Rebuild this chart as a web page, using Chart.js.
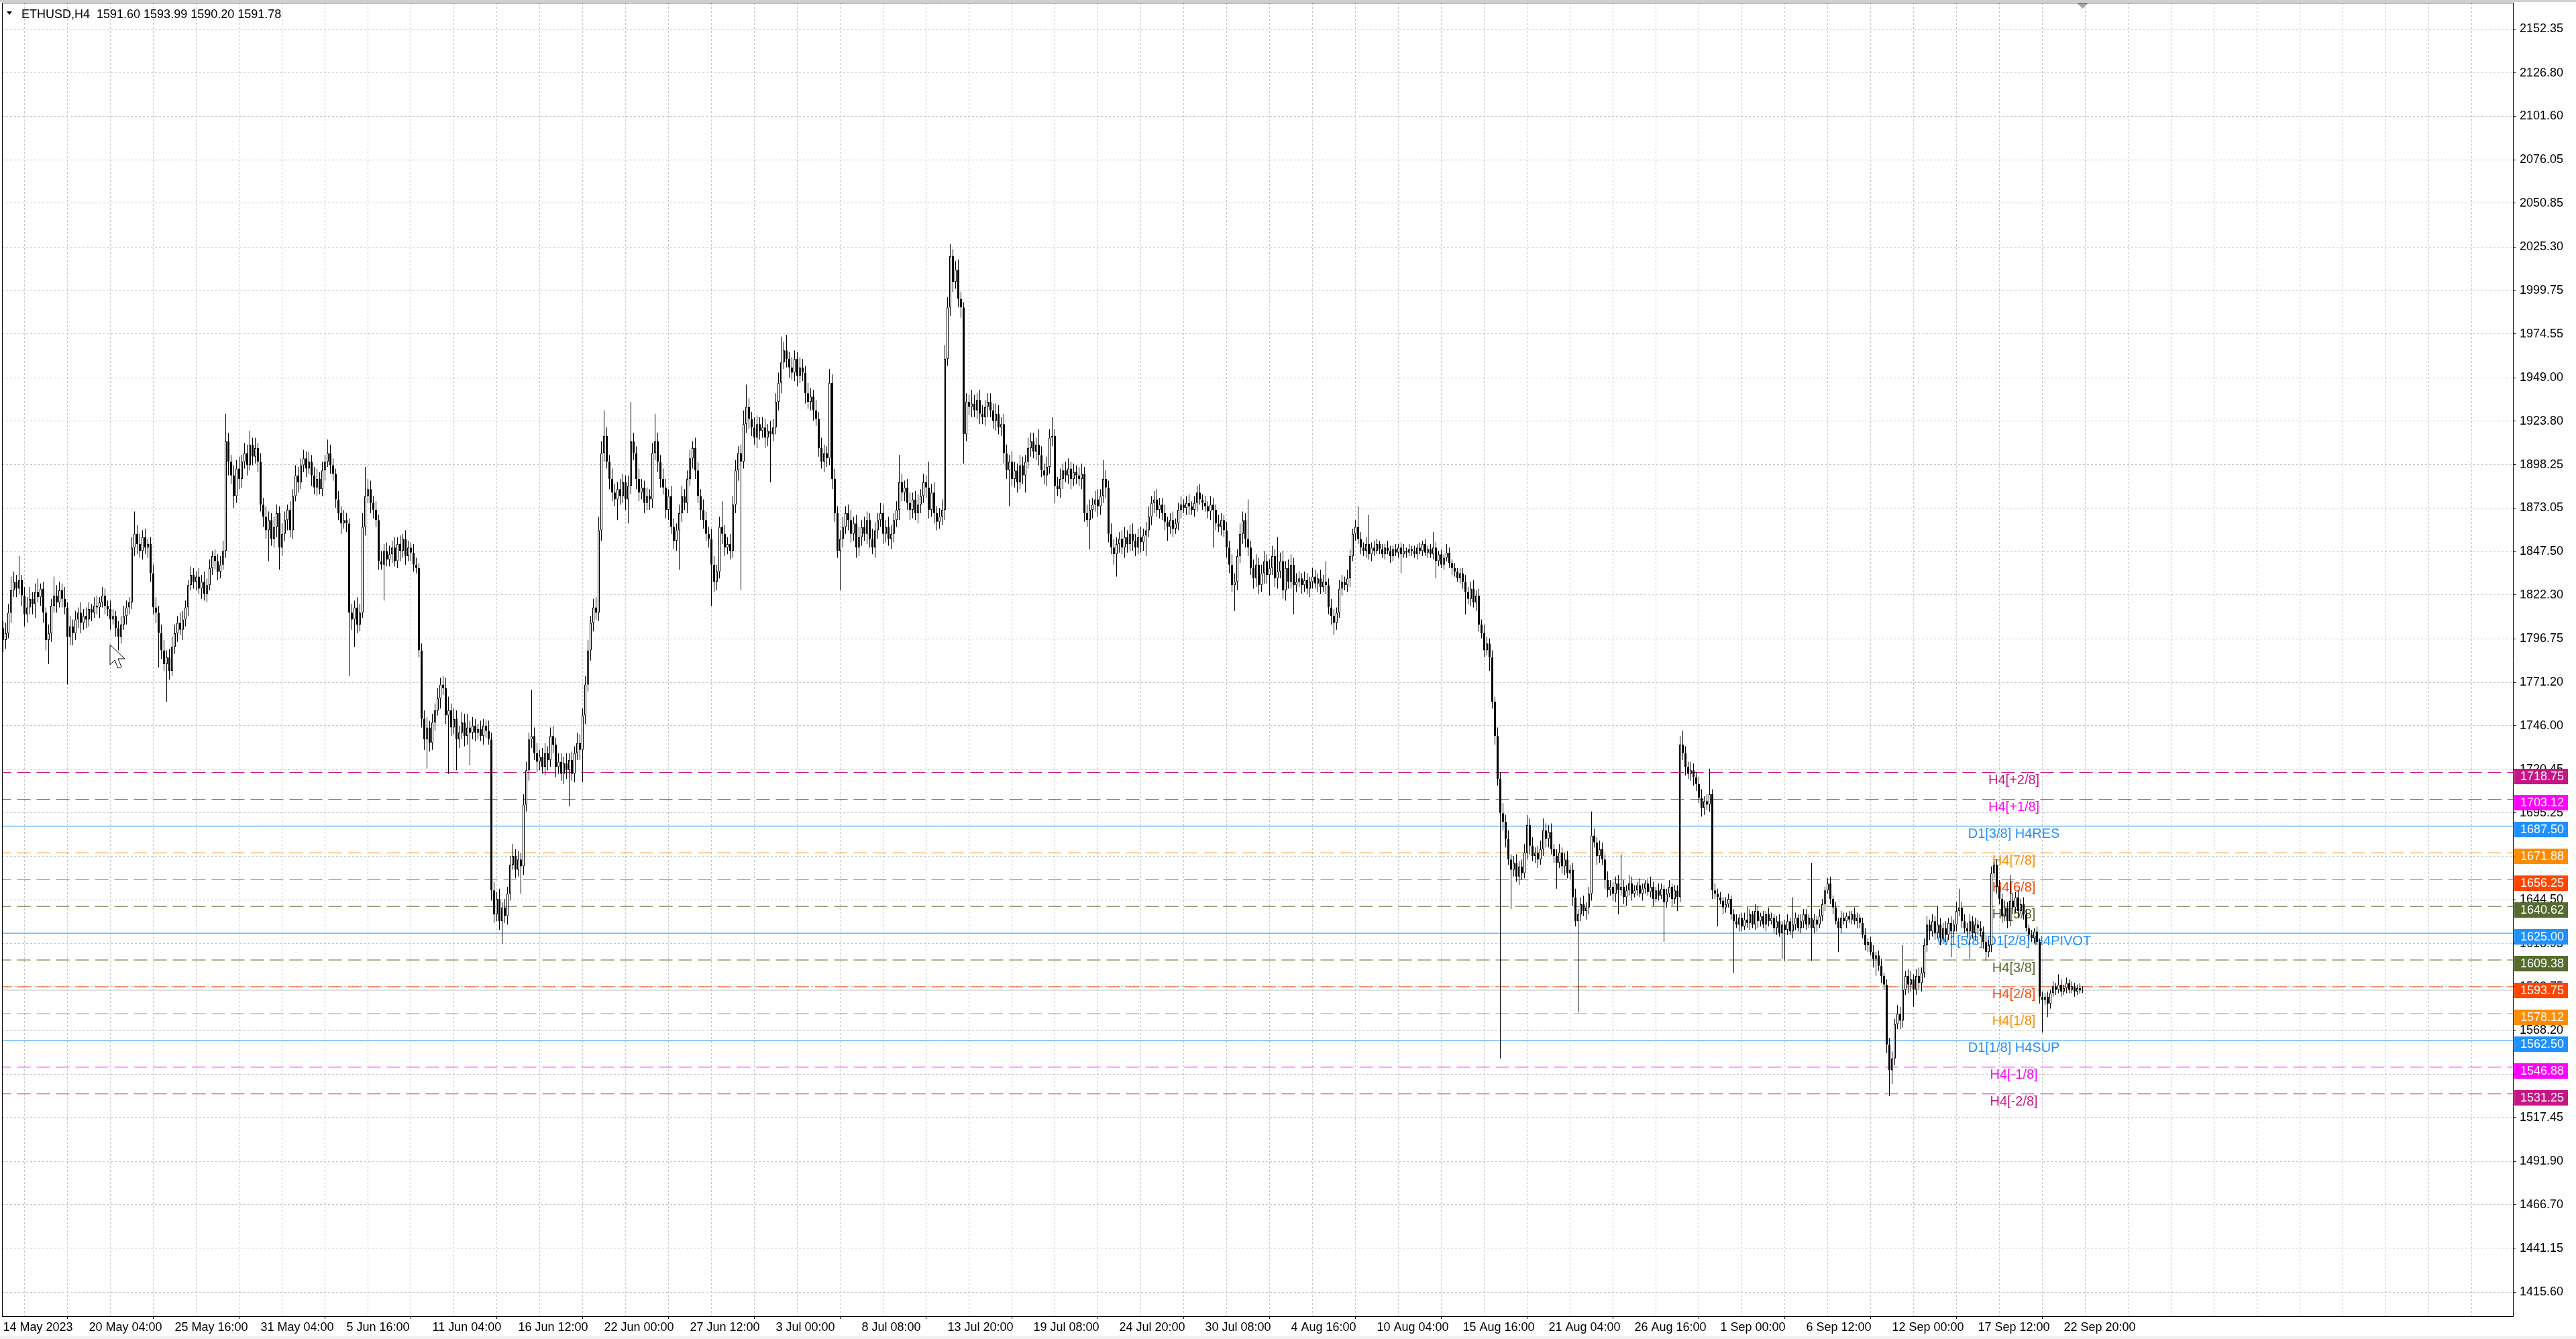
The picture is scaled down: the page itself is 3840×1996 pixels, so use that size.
<!DOCTYPE html>
<html>
<head>
<meta charset="utf-8">
<title>ETHUSD,H4</title>
<script src="https://cdn.jsdelivr.net/npm/chart.js@4.4.1/dist/chart.umd.min.js"></script>
<style>
  html, body { margin: 0; padding: 0; background: #fff; }
  canvas { display: block; }
</style>
</head>
<body>
<canvas id="graficoPreco" width="3840" height="1996"></canvas>
<script>
// ETHUSD H4 candles (open = previous close)
const symbolName = 'ETHUSD';
const periodName = 'H4';
const firstOpen = 1803;

const closes = [
  1796,1800,1812,1825,1830,1826,1831,1822,1811,1815,1820,1817,1824,1821,1826,1812,
  1796,1800,1816,1822,1818,1825,1820,1815,1798,1804,1800,1808,1812,1806,1810,1808,
  1814,1812,1816,1815,1818,1822,1816,1814,1808,1810,1803,1798,1805,1810,1815,1818,
  1850,1858,1852,1848,1856,1850,1852,1835,1815,1812,1800,1790,1782,1786,1778,1792,
  1800,1806,1802,1808,1815,1828,1834,1830,1833,1826,1830,1823,1828,1838,1845,1842,
  1836,1840,1848,1912,1900,1892,1880,1896,1890,1900,1905,1898,1910,1903,1908,1900,
  1875,1868,1860,1866,1855,1862,1870,1850,1858,1866,1872,1860,1880,1892,1888,1898,
  1902,1896,1900,1892,1885,1890,1884,1895,1900,1905,1898,1893,1878,1870,1864,1866,
  1864,1812,1808,1815,1805,1812,1862,1880,1884,1876,1872,1866,1842,1840,1848,1843,
  1846,1850,1842,1852,1848,1855,1845,1850,1847,1840,1838,1790,1750,1738,1745,1736,
  1748,1755,1762,1770,1768,1752,1755,1745,1750,1738,1742,1748,1740,1745,1742,1746,
  1742,1744,1740,1746,1743,1738,1650,1636,1645,1632,1640,1635,1648,1665,1670,1662,
  1668,1664,1700,1720,1738,1740,1730,1725,1728,1722,1730,1726,1740,1735,1722,1725,
  1718,1724,1720,1726,1718,1730,1736,1732,1752,1770,1790,1806,1815,1812,1860,1905,
  1915,1900,1890,1882,1878,1884,1880,1888,1878,1886,1912,1905,1890,1882,1885,1876,
  1880,1878,1905,1912,1900,1890,1885,1872,1880,1862,1854,1860,1870,1880,1876,1890,
  1902,1908,1895,1880,1872,1866,1858,1855,1840,1830,1836,1862,1858,1850,1852,1848,
  1875,1895,1905,1900,1922,1932,1925,1920,1914,1922,1918,1920,1914,1918,1916,1920,
  1935,1946,1958,1965,1960,1955,1952,1960,1950,1955,1952,1940,1935,1938,1930,1925,
  1908,1900,1905,1902,1946,1890,1870,1848,1855,1862,1870,1866,1858,1864,1850,1856,
  1862,1858,1866,1855,1850,1860,1866,1870,1858,1862,1855,1858,1866,1872,1888,1882,
  1885,1876,1872,1878,1870,1875,1880,1888,1885,1872,1882,1870,1865,1868,1872,1960,
  1990,2020,2005,2012,1995,1990,1916,1935,1932,1934,1930,1936,1928,1926,1932,1935,
  1930,1924,1928,1920,1922,1905,1895,1900,1890,1895,1888,1898,1892,1900,1908,1912,
  1906,1910,1904,1895,1892,1897,1914,1915,1886,1884,1890,1895,1892,1896,1890,1894,
  1892,1890,1893,1870,1866,1872,1875,1878,1874,1880,1890,1885,1858,1850,1846,1852,
  1855,1850,1856,1852,1858,1854,1850,1856,1853,1857,1860,1868,1876,1878,1872,1875,
  1870,1865,1862,1866,1861,1864,1872,1875,1873,1876,1874,1872,1876,1882,1878,1876,
  1874,1871,1875,1872,1864,1862,1866,1860,1850,1840,1828,1830,1845,1858,1866,1855,
  1850,1838,1832,1840,1828,1835,1842,1834,1838,1845,1832,1836,1842,1825,1838,1830,
  1840,1828,1830,1832,1828,1831,1826,1830,1833,1829,1832,1827,1830,1828,1815,1810,
  1806,1812,1826,1830,1828,1832,1845,1858,1862,1855,1850,1848,1852,1846,1850,1848,
  1852,1849,1846,1850,1848,1845,1849,1847,1850,1846,1848,1847,1849,1848,1846,1850,
  1848,1852,1847,1849,1846,1850,1842,1846,1840,1844,1847,1841,1838,1836,1832,1835,
  1830,1824,1820,1826,1818,1822,1805,1800,1790,1794,1786,1760,1740,1715,1695,1690,
  1680,1668,1662,1666,1658,1664,1660,1672,1688,1676,1670,1672,1668,1674,1685,1680,
  1684,1674,1670,1666,1672,1664,1668,1660,1662,1646,1632,1636,1642,1638,1640,1648,
  1682,1678,1670,1674,1668,1656,1650,1652,1648,1654,1650,1652,1646,1650,1654,1648,
  1650,1653,1648,1651,1654,1649,1652,1645,1650,1647,1651,1643,1648,1652,1645,1650,
  1646,1735,1730,1722,1718,1720,1716,1712,1704,1698,1702,1700,1706,1650,1648,1646,
  1644,1640,1642,1645,1636,1632,1630,1634,1629,1633,1631,1636,1630,1638,1632,1635,
  1630,1636,1632,1634,1628,1632,1625,1630,1627,1632,1626,1630,1634,1628,1632,1636,
  1630,1634,1628,1633,1630,1635,1642,1650,1654,1645,1640,1632,1628,1634,1632,1635,
  1633,1636,1632,1634,1631,1624,1618,1620,1614,1610,1612,1606,1600,1595,1560,1545,
  1552,1572,1578,1574,1592,1600,1595,1598,1592,1600,1596,1602,1618,1630,1626,1632,
  1625,1630,1622,1628,1624,1631,1626,1630,1638,1640,1632,1628,1626,1632,1625,1630,
  1628,1626,1620,1614,1618,1660,1665,1652,1645,1635,1640,1632,1644,1640,1646,1638,
  1642,1636,1628,1624,1622,1626,1620,1588,1586,1588,1584,1590,1594,1592,1595,1591,
  1593,1596,1592,1594,1591,1593,1591.6,1591.78
];

const upperWick = [
  4,6,5,8,6,4,14,3,5,6,7,4,5,8,3,4,
  3,5,4,11,6,5,4,7,3,6,4,5,3,6,4,5,
  4,3,5,6,3,5,4,3,5,4,3,4,5,6,4,3,
  6,13,5,6,4,5,3,4,5,6,4,5,6,4,5,6,
  5,4,6,5,4,3,5,4,3,5,4,6,4,5,3,4,
  4,5,6,16,5,4,6,5,7,4,6,5,8,4,6,3,
  5,4,6,5,4,6,5,4,6,5,3,5,4,6,5,4,
  5,4,6,4,5,6,4,5,4,8,5,4,3,5,4,6,
  4,3,5,4,6,5,8,17,6,5,4,5,3,6,4,5,
  5,4,6,4,5,3,5,4,3,5,4,3,4,5,6,4,
  5,4,6,4,5,6,8,4,6,5,4,6,5,8,4,5,
  4,3,5,4,3,6,4,5,4,6,3,5,4,5,7,4,
  5,4,6,5,4,27,5,6,4,5,6,4,5,6,4,5,
  5,4,6,4,5,4,6,5,4,5,6,4,5,6,8,7,
  15,5,4,6,5,4,6,5,4,6,23,5,4,6,5,4,
  5,4,6,16,5,4,6,5,4,6,5,4,5,6,4,5,
  5,4,6,5,4,6,5,4,6,5,4,6,15,5,4,6,
  5,6,4,5,8,13,5,4,6,5,4,6,5,4,6,5,
  5,6,15,5,9,4,6,5,4,6,5,4,6,5,4,6,
  4,6,5,4,8,5,6,4,5,6,4,5,6,4,5,6,
  4,6,5,4,6,5,4,6,5,4,6,5,4,5,16,5,
  4,5,6,4,5,6,4,5,4,15,5,6,4,5,6,8,
  6,7,4,5,6,4,3,5,4,8,5,4,6,5,4,5,
  5,4,6,5,4,6,5,4,6,5,4,6,5,4,6,5,
  5,4,9,5,4,6,5,11,4,5,6,4,5,6,4,5,
  4,5,6,4,5,6,4,5,6,4,11,5,4,6,5,4,
  4,5,6,4,5,6,4,5,6,4,5,6,4,5,6,4,
  4,5,3,4,5,3,4,5,3,4,5,3,4,4,5,3,
  4,3,5,4,3,5,4,3,5,4,6,5,4,6,5,4,
  23,4,5,6,4,5,6,4,5,6,4,20,5,6,4,5,
  6,4,5,4,3,5,4,3,5,4,3,5,4,12,4,5,
  4,3,5,4,3,5,4,3,4,12,4,3,4,17,3,4,
  3,2,3,2,4,3,2,3,2,3,4,2,3,2,3,2,
  3,2,3,2,3,9,3,2,3,2,5,3,2,3,2,3,
  3,4,3,4,5,3,4,3,5,4,3,4,3,5,4,6,
  4,5,3,4,5,3,4,5,6,4,5,3,4,5,7,4,
  4,5,3,4,5,3,4,5,3,4,5,3,4,5,3,4,
  14,4,3,5,4,3,5,4,3,4,5,19,4,3,5,4,
  3,2,4,3,2,3,6,3,2,4,3,2,3,4,2,3,
  3,5,8,4,3,5,4,3,4,5,3,4,15,3,4,3,
  3,2,4,3,2,3,4,2,3,4,8,3,2,4,3,2,
  3,2,4,3,2,3,4,2,3,4,2,16,3,2,4,3,
  3,2,32,3,2,4,3,2,3,4,2,3,2,4,3,2,
  3,2,4,3,2,3,4,2,3,4,2,3,4,2,3,4,
  4,3,5,4,26,3,4,5,3,4,5,3,4,5,3,4,
  3,11,4,3,4,3,4,3,5,11,3,4,3,4,3,4,
  3,4,3,4,3,4,2,3,4,3,4,3,15,4,3,4,
  3,4,3,2,3,2,3,2,3,2,3,2,3,2,6,3,
  2,3,2,3,2,2,3,2.21
];

const lowerWick = [
  7,5,3,6,4,5,3,6,7,5,4,6,8,3,5,6,
  6,14,5,4,6,3,5,4,28,5,7,4,5,6,4,5,
  4,5,3,4,6,3,5,4,6,3,5,8,4,3,5,4,
  4,5,6,4,5,4,6,5,4,6,20,5,4,22,5,3,
  4,5,3,6,4,5,3,4,5,3,6,4,5,3,4,5,
  5,4,3,4,8,5,7,4,6,5,4,6,3,5,4,6,
  4,6,5,18,4,5,6,13,5,4,6,4,5,3,6,4,
  4,5,3,6,4,5,3,4,6,3,5,4,5,4,6,3,
  5,37,6,16,5,4,3,5,4,6,5,4,5,3,21,4,
  4,5,3,4,6,4,5,3,5,4,3,4,5,6,17,5,
  4,5,3,6,4,5,34,5,4,18,5,4,6,5,19,4,
  5,4,3,5,4,3,6,5,4,5,13,4,5,4,3,5,
  4,16,5,4,6,5,4,6,5,4,5,6,4,5,6,4,
  4,6,5,21,4,5,4,6,19,5,4,6,5,4,5,6,
  5,4,6,5,4,12,5,4,6,14,5,4,6,5,4,6,
  4,6,5,4,6,5,4,5,6,4,5,6,23,5,4,6,
  4,6,5,4,6,5,4,5,24,6,5,4,6,5,4,5,
  4,5,6,75,4,5,6,5,4,6,5,4,6,5,28,4,
  4,5,6,4,5,6,4,5,6,4,5,6,4,5,6,4,
  5,4,6,5,4,6,5,4,23,5,4,6,5,4,6,5,
  5,4,6,5,4,6,5,4,6,5,4,6,5,4,6,5,
  5,4,6,5,4,6,5,4,6,5,4,6,5,4,5,6,
  4,5,6,4,5,6,17,4,5,6,4,5,6,4,5,6,
  4,5,6,4,5,6,5,21,4,5,6,4,5,10,4,5,
  4,5,6,4,5,6,4,5,10,4,5,6,4,5,6,4,
  5,4,6,5,4,17,5,4,6,5,4,6,5,4,6,13,
  5,4,6,5,4,6,5,4,6,5,12,4,5,6,4,5,
  4,5,8,4,5,3,4,5,3,4,5,3,4,5,3,4,
  3,4,5,22,4,3,5,4,6,5,4,15,5,4,6,5,
  5,4,6,5,5,4,6,5,12,4,5,6,4,5,6,4,
  4,17,4,3,5,4,3,5,4,3,5,4,3,5,4,5,
  7,4,3,4,3,4,5,3,4,3,4,3,4,3,4,3,
  2,3,2,3,2,4,3,2,3,11,2,3,2,3,2,3,
  2,3,2,3,2,3,10,3,2,3,2,3,4,3,2,3,
  4,13,3,4,3,5,4,3,4,3,8,4,5,4,143,5,
  5,3,23,4,3,5,4,3,4,5,3,4,5,3,4,5,
  5,3,4,15,3,4,5,3,4,5,3,53,4,3,5,4,
  4,3,5,4,3,5,4,3,4,5,14,3,4,5,3,4,
  2,3,2,4,3,2,3,4,2,3,2,23,3,2,4,3,
  8,3,4,5,3,4,5,4,3,5,4,3,4,5,3,17,
  2,4,3,2,3,30,2,4,3,2,3,4,2,3,4,3,
  2,4,3,2,3,4,2,15,18,3,2,4,3,2,3,4,
  3,2,19,3,4,2,3,4,2,3,4,2,14,3,2,4,
  2,3,2,4,3,2,3,4,2,5,10,3,4,3,5,15,
  8,4,3,5,4,3,5,4,10,3,4,5,3,4,5,3,
  4,3,4,3,4,3,15,3,4,3,4,3,4,16,3,4,
  4,3,4,5,3,4,3,4,3,4,3,4,3,4,3,4,
  2,3,2,3,2,3,2,4,19,3,8,3,2,3,2,3,
  2,3,2,2,3,2,2,1.4
];

// one label every 32 bars
const timeLabels = [
  '14 May 2023', '20 May 04:00', '25 May 16:00', '31 May 04:00', '5 Jun 16:00',
  '11 Jun 04:00', '16 Jun 12:00', '22 Jun 00:00', '27 Jun 12:00', '3 Jul 00:00',
  '8 Jul 08:00', '13 Jul 20:00', '19 Jul 08:00', '24 Jul 20:00', '30 Jul 08:00',
  '4 Aug 16:00', '10 Aug 04:00', '15 Aug 16:00', '21 Aug 04:00', '26 Aug 16:00',
  '1 Sep 00:00', '6 Sep 12:00', '12 Sep 00:00', '17 Sep 12:00', '22 Sep 20:00'
];

const priceTicks = [
  2152.35, 2126.80, 2101.60, 2076.05, 2050.85, 2025.30, 1999.75, 1974.55, 1949.00, 1923.80,
  1898.25, 1873.05, 1847.50, 1822.30, 1796.75, 1771.20, 1746.00, 1720.45, 1695.25, 1669.70,
  1644.50, 1618.95, 1593.75, 1568.20, 1542.65, 1517.45, 1491.90, 1466.70, 1441.15, 1415.60
];

// Murrey math levels
const levelPrices = [1718.75, 1703.12, 1687.50, 1671.88, 1656.25, 1640.62, 1625.00,
                     1609.38, 1593.75, 1578.12, 1562.50, 1546.88, 1531.25];
const levelNames = ['H4[+2/8]', 'H4[+1/8]', 'D1[3/8] H4RES', 'H4[7/8]', 'H4[6/8]', 'H4[5/8]',
                    'W1[5/8] D1[2/8] H4PIVOT', 'H4[3/8]', 'H4[2/8]', 'H4[1/8]', 'D1[1/8] H4SUP',
                    'H4[-1/8]', 'H4[-2/8]'];
const bidPrice = 1591.78;

// estilos
const levelColors = ['#C71585', '#FF00FF', '#1E90FF', '#FF8C00', '#FF4500', '#556B2F', '#1E90FF',
                     '#556B2F', '#FF4500', '#FF8C00', '#1E90FF', '#FF00FF', '#C71585'];
const levelSolid = [false, false, true, false, false, false, true, false, false, false, true, false, false];
const gridColor = '#c6c6c6';
const fontFamily = '"Liberation Sans", Arial, sans-serif';
const labelBar = 749.4;

const opens = closes.map((c, i) => (i === 0 ? firstOpen : closes[i - 1]));
const highs = closes.map((c, i) => Math.max(opens[i], c) + upperWick[i]);
const lows = closes.map((c, i) => Math.min(opens[i], c) - lowerWick[i]);

document.addEventListener('DOMContentLoaded', () => {
    initChart();
});

// the axes must not reserve room for half labels at the ends
function fixPadding(scale) {
    scale.paddingTop = 0;
    scale.paddingBottom = 0;
    scale.paddingLeft = 0;
    scale.paddingRight = 0;
}

function initChart() {
    const bodies = closes.map((c, i) => {
        const o = opens[i];
        const y = Math.abs(c - o) < 0.3 ? [c - 0.2, c + 0.2] : [o, c];
        return { x: i, y };
    });
    const wicks = closes.map((c, i) => ({ x: i, y: [lows[i], highs[i]] }));

    const levelSets = levelPrices.map((p, i) => ({
        type: 'line',
        data: [{ x: -2, y: p }, { x: 940, y: p }],
        borderColor: levelColors[i],
        borderWidth: 1,
        borderDash: levelSolid[i] ? [] : [20, 9],
        pointRadius: 0,
        order: 3
    }));

    const ctx = document.getElementById('graficoPreco').getContext('2d');
    const chart = new Chart(ctx, {
        type: 'bar',
        data: {
            datasets: [
                {
                    label: 'body',
                    data: bodies,
                    order: 0,
                    grouped: false,
                    barThickness: 3,
                    borderWidth: 1,
                    borderColor: '#000',
                    borderSkipped: false,
                    inflateAmount: 0,
                    backgroundColor: (c) => (closes[c.dataIndex] >= opens[c.dataIndex] ? '#fff' : '#000')
                },
                {
                    label: 'wick',
                    data: wicks,
                    order: 1,
                    grouped: false,
                    barThickness: 1,
                    borderWidth: 0,
                    inflateAmount: 0,
                    backgroundColor: '#000'
                },
                {
                    type: 'line',
                    data: [{ x: -2, y: bidPrice }, { x: 940, y: bidPrice }],
                    borderColor: '#c0c0c0',
                    borderWidth: 1,
                    pointRadius: 0,
                    order: 2
                },
                ...levelSets
            ]
        },
        options: {
            responsive: false,
            animation: false,
            devicePixelRatio: 1,
            events: [],
            layout: { padding: { left: 3, top: 4, right: 0, bottom: 0 } },
            plugins: {
                legend: { display: false },
                tooltip: { enabled: false }
            },
            scales: {
                x: {
                    type: 'linear',
                    min: -0.375,
                    max: 935.375,
                    offset: false,
                    afterFit(scale) { scale.height = 34; fixPadding(scale); },
                    afterBuildTicks(scale) {
                        const t = [];
                        for (let v = 0; v <= 928; v += 16) t.push({ value: v });
                        scale.ticks = t;
                    },
                    ticks: {
                        autoSkip: false,
                        maxRotation: 0,
                        minRotation: 0,
                        align: 'start',
                        padding: 2,
                        color: '#000',
                        font: { family: fontFamily, size: 18 },
                        callback: (v) => (v % 32 === 0 && timeLabels[v / 32]) ? timeLabels[v / 32] : ''
                    },
                    grid: {
                        color: gridColor,
                        lineWidth: 1,
                        drawTicks: true,
                        tickLength: 4,
                        tickColor: (c) => (c.tick && c.tick.value % 32 === 0 && timeLabels[c.tick.value / 32]) ? '#000' : 'rgba(0,0,0,0)'
                    },
                    border: { display: true, color: '#000', width: 1, dash: [3, 3] }
                },
                y: {
                    position: 'right',
                    min: 1401.6,
                    max: 2167.8,
                    afterFit(scale) { scale.width = 94; fixPadding(scale); },
                    afterBuildTicks(scale) {
                        scale.ticks = priceTicks.map(v => ({ value: v }));
                    },
                    ticks: {
                        autoSkip: false,
                        padding: 6,
                        color: '#000',
                        font: { family: fontFamily, size: 18 },
                        callback: (v) => v.toFixed(2)
                    },
                    grid: { color: gridColor, lineWidth: 1, tickLength: 4, tickColor: '#000' },
                    border: { display: true, color: '#000', width: 1, dash: [3, 3] }
                }
            }
        },
        plugins: [levelOverlay()]
    });

    window.graficoChart = chart;
}

function levelOverlay() {
    return {
        id: 'levelOverlay',
        beforeDatasetsDraw(chart) {
            const { ctx, scales: { x, y } } = chart;
            ctx.save();
            ctx.font = '20px ' + fontFamily;
            ctx.textAlign = 'center';
            ctx.textBaseline = 'top';
            levelPrices.forEach((p, i) => {
                ctx.fillStyle = levelColors[i];
                ctx.fillText(levelNames[i], x.getPixelForValue(labelBar), y.getPixelForValue(p) + 2);
            });
            ctx.restore();
        },
        afterDraw(chart) {
            const { ctx, chartArea, scales: { x, y } } = chart;
            ctx.save();

            // price boxes on the right axis
            ctx.font = '18px ' + fontFamily;
            ctx.textAlign = 'left';
            ctx.textBaseline = 'middle';
            levelPrices.forEach((p, i) => {
                const py = Math.round(y.getPixelForValue(p));
                ctx.fillStyle = levelColors[i];
                ctx.fillRect(chartArea.right + 2, py - 6, 80, 23);
                ctx.fillStyle = '#fff';
                ctx.fillText(p.toFixed(2), chartArea.right + 11, py + 6);
            });

            // frame
            ctx.fillStyle = '#d0d0d0';
            ctx.fillRect(0, 0, 3840, 3);
            ctx.fillStyle = '#f0f0f0';
            ctx.fillRect(0, 1992, 3840, 4);
            ctx.strokeStyle = '#000';
            ctx.lineWidth = 1;
            ctx.beginPath();
            ctx.moveTo(chartArea.left + 0.5, chartArea.top);
            ctx.lineTo(chartArea.left + 0.5, chartArea.bottom);
            ctx.moveTo(chartArea.left, chartArea.top + 0.5);
            ctx.lineTo(chartArea.right, chartArea.top + 0.5);
            ctx.stroke();

            // chart shift marker
            const sx = x.getPixelForValue(closes.length - 1);
            ctx.fillStyle = '#a8a8a8';
            ctx.beginPath();
            ctx.moveTo(sx - 8, chartArea.top + 1);
            ctx.lineTo(sx + 8, chartArea.top + 1);
            ctx.lineTo(sx, chartArea.top + 9);
            ctx.closePath();
            ctx.fill();

            // title
            const n = closes.length - 1;
            ctx.fillStyle = '#000';
            ctx.beginPath();
            ctx.moveTo(10, 17);
            ctx.lineTo(18, 17);
            ctx.lineTo(14, 22);
            ctx.closePath();
            ctx.fill();
            ctx.font = '18px ' + fontFamily;
            ctx.textBaseline = 'alphabetic';
            ctx.textAlign = 'left';
            const title = symbolName + ',' + periodName + '  ' + opens[n].toFixed(2) + ' ' +
                highs[n].toFixed(2) + ' ' + lows[n].toFixed(2) + ' ' + closes[n].toFixed(2);
            ctx.fillText(title, 32, 27);

            // mouse pointer left in the screenshot
            const cx = 164, cy = 961;
            ctx.fillStyle = '#fff';
            ctx.strokeStyle = '#000';
            ctx.beginPath();
            ctx.moveTo(cx, cy);
            ctx.lineTo(cx, cy + 30);
            ctx.lineTo(cx + 7, cy + 23);
            ctx.lineTo(cx + 12, cy + 35);
            ctx.lineTo(cx + 17, cy + 33);
            ctx.lineTo(cx + 12, cy + 21);
            ctx.lineTo(cx + 22, cy + 21);
            ctx.closePath();
            ctx.fill();
            ctx.stroke();

            ctx.restore();
        }
    };
}
</script>
</body>
</html>
